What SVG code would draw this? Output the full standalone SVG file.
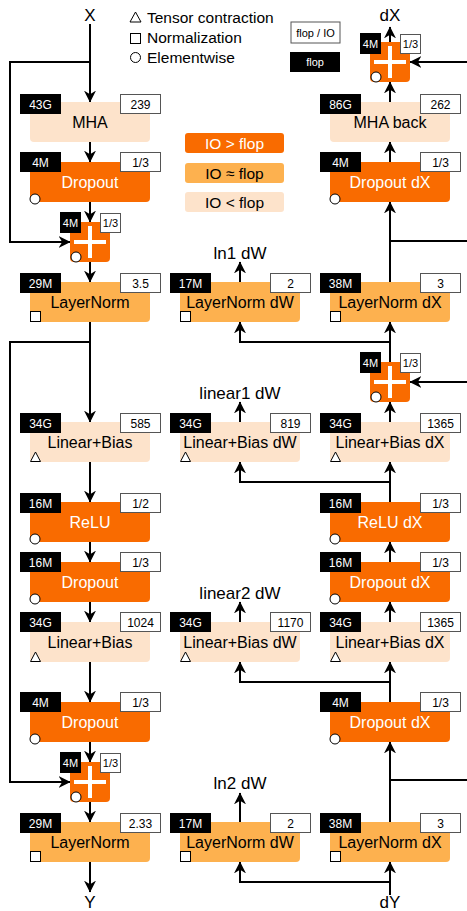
<svg xmlns="http://www.w3.org/2000/svg" width="467" height="911" viewBox="0 0 467 911">
<defs>
<marker id="ah" viewBox="0 0 10 10" refX="9.5" refY="5" markerWidth="12" markerHeight="12" markerUnits="userSpaceOnUse" orient="auto">
<path d="M0,0 L10,5 L0,10 L3,5 z" fill="#000"/>
</marker>
</defs>
<style>
text{font-family:"Liberation Sans",Arial,sans-serif;}
.hi{fill:#f96b00;}
.mid{fill:#fdb14f;}
.lo{fill:#fde3cb;}
.t{font-size:16px;text-anchor:middle;fill:#000;}
.tw{font-size:16px;text-anchor:middle;fill:#fff;}
.bl{fill:#000;}
.wl{fill:#fff;stroke:#555;stroke-width:1;}
.lt{font-size:12px;text-anchor:middle;fill:#fff;}
.ltb{font-size:12px;text-anchor:middle;fill:#000;}
.mk{fill:#fff;stroke:#000;stroke-width:1;}
.plus{stroke:#fff;stroke-width:4;fill:none;}
.c{fill:none;stroke:#000;stroke-width:2;}
.ca{fill:none;stroke:#000;stroke-width:2;marker-end:url(#ah);}
.big{font-size:17px;text-anchor:middle;fill:#000;}
.leg{font-size:15.5px;fill:#000;}
</style>

<g id="legend">
<polygon class="mk" points="135.5,12 130,22 141,22"/>
<text class="leg" x="147" y="23">Tensor contraction</text>
<rect class="mk" x="130.5" y="33.5" width="10" height="10"/>
<text class="leg" x="147" y="43">Normalization</text>
<circle class="mk" cx="135.5" cy="57.5" r="5"/>
<text class="leg" x="147" y="63">Elementwise</text>
<rect class="wl" x="291" y="22" width="49" height="21"/>
<text x="315.5" y="36.5" style="font-size:11px;text-anchor:middle">flop / IO</text>
<rect class="bl" x="290" y="52" width="50" height="20"/>
<text x="315" y="66" style="font-size:11px;text-anchor:middle;fill:#fff">flop</text>
<rect class="hi" x="185" y="133" width="99" height="20" rx="3"/>
<text class="tw" x="234.5" y="149" style="font-size:15.5px">IO &gt; flop</text>
<rect class="mid" x="185" y="163" width="99" height="20" rx="3"/>
<text class="t" x="234.5" y="179" style="font-size:15.5px">IO ≈ flop</text>
<rect class="lo" x="185" y="192" width="99" height="20" rx="3"/>
<text class="t" x="234.5" y="208" style="font-size:15.5px">IO &lt; flop</text>
</g>

<g id="io-labels">
<text class="big" x="90" y="21">X</text>
<text class="big" x="90" y="908">Y</text>
<text class="big" x="390" y="21">dX</text>
<text class="big" x="390" y="908">dY</text>
<text class="big" x="240" y="259">ln1 dW</text>
<text class="big" x="240" y="399">linear1 dW</text>
<text class="big" x="240" y="599">linear2 dW</text>
<text class="big" x="240" y="789">ln2 dW</text>
</g>

<g id="connectors">
<path class="ca" d="M90,24 V102"/>
<path class="ca" d="M90,62 H10 V242 H70"/>
<path class="ca" d="M90,142 V162"/>
<path class="ca" d="M90,202 V222"/>
<path class="ca" d="M90,262 V282"/>
<path class="ca" d="M90,322 V422"/>
<path class="ca" d="M90,342 H10 V782 H70"/>
<path class="ca" d="M90,462 V502"/>
<path class="ca" d="M90,542 V562"/>
<path class="ca" d="M90,602 V622"/>
<path class="ca" d="M90,662 V702"/>
<path class="ca" d="M90,742 V762"/>
<path class="ca" d="M90,802 V822"/>
<path class="ca" d="M90,862 V892"/>
<path class="ca" d="M240,282 V262"/>
<path class="ca" d="M240,422 V402"/>
<path class="ca" d="M240,622 V602"/>
<path class="ca" d="M240,822 V793"/>
<path class="ca" d="M390,42 V27"/>
<path class="ca" d="M390,241 H480 V62 H410"/>
<path class="ca" d="M390,102 V82"/>
<path class="ca" d="M390,162 V142"/>
<path class="ca" d="M390,282 V202"/>
<path class="ca" d="M390,362 V322"/>
<path class="ca" d="M390,342 H240 V322"/>
<path class="ca" d="M390,422 V402"/>
<path class="ca" d="M390,502 V462"/>
<path class="ca" d="M390,482 H240 V462"/>
<path class="ca" d="M390,562 V542"/>
<path class="ca" d="M390,622 V602"/>
<path class="ca" d="M390,702 V662"/>
<path class="ca" d="M390,682 H240 V662"/>
<path class="ca" d="M390,822 V742"/>
<path class="ca" d="M390,780 H480 V382 H410"/>
<path class="ca" d="M390,895 V862"/>
<path class="ca" d="M390,882 H240 V862"/>
</g>

<!-- Column 1 -->
<g id="mha">
<rect class="lo" x="30" y="102" width="120" height="40" rx="4"/>
<text class="t" x="90" y="128">MHA</text>
<rect class="bl" x="20" y="94" width="41" height="20"/><text class="lt" x="40.5" y="108.5">43G</text>
<rect class="wl" x="120.5" y="94.5" width="40" height="19"/><text class="ltb" x="140.5" y="108.5">239</text>
</g>
<g id="dropout1">
<rect class="hi" x="30" y="162" width="120" height="40" rx="4"/>
<text class="tw" x="90" y="188">Dropout</text>
<circle class="mk" cx="35" cy="199" r="5"/>
<rect class="bl" x="20" y="152" width="41" height="20"/><text class="lt" x="40.5" y="166.5">4M</text>
<rect class="wl" x="120.5" y="152.5" width="40" height="19"/><text class="ltb" x="140.5" y="166.5">1/3</text>
</g>
<g id="add1">
<rect class="hi" x="70" y="222" width="40" height="40" rx="4"/>
<path class="plus" d="M74,242 H106 M90,226 V258"/>
<circle class="mk" cx="76" cy="257" r="5"/>
<rect class="bl" x="60" y="212" width="21" height="21"/><text class="lt" x="70.5" y="227" style="font-size:11px">4M</text>
<rect class="wl" x="100.5" y="213.5" width="20" height="19"/><text class="ltb" x="110.5" y="227" style="font-size:11px">1/3</text>
</g>
<g id="layernorm1">
<rect class="mid" x="30" y="282" width="120" height="40" rx="4"/>
<text class="t" x="90" y="308">LayerNorm</text>
<rect class="mk" x="30.5" y="311.5" width="10" height="10"/>
<rect class="bl" x="20" y="273" width="41" height="20"/><text class="lt" x="40.5" y="287.5">29M</text>
<rect class="wl" x="120.5" y="273.5" width="40" height="19"/><text class="ltb" x="140.5" y="287.5">3.5</text>
</g>
<g id="linear1">
<rect class="lo" x="30" y="422" width="120" height="40" rx="4"/>
<text class="t" x="90" y="448">Linear+Bias</text>
<polygon class="mk" points="35.5,452 30.5,461.5 40.5,461.5"/>
<rect class="bl" x="20" y="413" width="41" height="20"/><text class="lt" x="40.5" y="427.5">34G</text>
<rect class="wl" x="120.5" y="413.5" width="40" height="19"/><text class="ltb" x="140.5" y="427.5">585</text>
</g>
<g id="relu">
<rect class="hi" x="30" y="502" width="120" height="40" rx="4"/>
<text class="tw" x="90" y="528">ReLU</text>
<circle class="mk" cx="35" cy="539" r="5"/>
<rect class="bl" x="20" y="493" width="41" height="20"/><text class="lt" x="40.5" y="507.5">16M</text>
<rect class="wl" x="120.5" y="493.5" width="40" height="19"/><text class="ltb" x="140.5" y="507.5">1/2</text>
</g>
<g id="dropout2">
<rect class="hi" x="30" y="562" width="120" height="40" rx="4"/>
<text class="tw" x="90" y="588">Dropout</text>
<circle class="mk" cx="35" cy="599" r="5"/>
<rect class="bl" x="20" y="552" width="41" height="20"/><text class="lt" x="40.5" y="566.5">16M</text>
<rect class="wl" x="120.5" y="552.5" width="40" height="19"/><text class="ltb" x="140.5" y="566.5">1/3</text>
</g>
<g id="linear2">
<rect class="lo" x="30" y="622" width="120" height="40" rx="4"/>
<text class="t" x="90" y="648">Linear+Bias</text>
<polygon class="mk" points="35.5,652 30.5,661.5 40.5,661.5"/>
<rect class="bl" x="20" y="612" width="41" height="20"/><text class="lt" x="40.5" y="626.5">34G</text>
<rect class="wl" x="120.5" y="612.5" width="40" height="19"/><text class="ltb" x="140.5" y="626.5">1024</text>
</g>
<g id="dropout3">
<rect class="hi" x="30" y="702" width="120" height="40" rx="4"/>
<text class="tw" x="90" y="728">Dropout</text>
<circle class="mk" cx="35" cy="739" r="5"/>
<rect class="bl" x="20" y="692" width="41" height="20"/><text class="lt" x="40.5" y="706.5">4M</text>
<rect class="wl" x="120.5" y="692.5" width="40" height="19"/><text class="ltb" x="140.5" y="706.5">1/3</text>
</g>
<g id="add2">
<rect class="hi" x="70" y="762" width="40" height="40" rx="4"/>
<path class="plus" d="M74,782 H106 M90,766 V798"/>
<circle class="mk" cx="76" cy="797" r="5"/>
<rect class="bl" x="60" y="752" width="21" height="21"/><text class="lt" x="70.5" y="767" style="font-size:11px">4M</text>
<rect class="wl" x="100.5" y="753.5" width="20" height="19"/><text class="ltb" x="110.5" y="767" style="font-size:11px">1/3</text>
</g>
<g id="layernorm2">
<rect class="mid" x="30" y="822" width="120" height="40" rx="4"/>
<text class="t" x="90" y="848">LayerNorm</text>
<rect class="mk" x="30.5" y="851.5" width="10" height="10"/>
<rect class="bl" x="20" y="813" width="41" height="20"/><text class="lt" x="40.5" y="827.5">29M</text>
<rect class="wl" x="120.5" y="813.5" width="40" height="19"/><text class="ltb" x="140.5" y="827.5">2.33</text>
</g>

<!-- Column 2 -->
<g id="ln1dw">
<rect class="mid" x="180" y="282" width="120" height="40" rx="4"/>
<text class="t" x="240" y="308">LayerNorm dW</text>
<rect class="mk" x="180.5" y="311.5" width="10" height="10"/>
<rect class="bl" x="170" y="273" width="41" height="20"/><text class="lt" x="190.5" y="287.5">17M</text>
<rect class="wl" x="270.5" y="273.5" width="40" height="19"/><text class="ltb" x="290.5" y="287.5">2</text>
</g>
<g id="lin1dw">
<rect class="lo" x="180" y="422" width="120" height="40" rx="4"/>
<text class="t" x="240" y="448">Linear+Bias dW</text>
<polygon class="mk" points="185.5,452 180.5,461.5 190.5,461.5"/>
<rect class="bl" x="170" y="413" width="41" height="20"/><text class="lt" x="190.5" y="427.5">34G</text>
<rect class="wl" x="270.5" y="413.5" width="40" height="19"/><text class="ltb" x="290.5" y="427.5">819</text>
</g>
<g id="lin2dw">
<rect class="lo" x="180" y="622" width="120" height="40" rx="4"/>
<text class="t" x="240" y="648">Linear+Bias dW</text>
<polygon class="mk" points="185.5,652 180.5,661.5 190.5,661.5"/>
<rect class="bl" x="170" y="612" width="41" height="20"/><text class="lt" x="190.5" y="626.5">34G</text>
<rect class="wl" x="270.5" y="612.5" width="40" height="19"/><text class="ltb" x="290.5" y="626.5">1170</text>
</g>
<g id="ln2dw">
<rect class="mid" x="180" y="822" width="120" height="40" rx="4"/>
<text class="t" x="240" y="848">LayerNorm dW</text>
<rect class="mk" x="180.5" y="851.5" width="10" height="10"/>
<rect class="bl" x="170" y="813" width="41" height="20"/><text class="lt" x="190.5" y="827.5">17M</text>
<rect class="wl" x="270.5" y="813.5" width="40" height="19"/><text class="ltb" x="290.5" y="827.5">2</text>
</g>

<!-- Column 3 -->
<g id="addb1">
<rect class="hi" x="370" y="42" width="40" height="40" rx="4"/>
<path class="plus" d="M374,62 H406 M390,46 V78"/>
<circle class="mk" cx="376" cy="77" r="5"/>
<rect class="bl" x="360" y="33" width="21" height="21"/><text class="lt" x="370.5" y="48" style="font-size:11px">4M</text>
<rect class="wl" x="400.5" y="34.5" width="20" height="19"/><text class="ltb" x="410.5" y="48" style="font-size:11px">1/3</text>
</g>
<g id="mhaback">
<rect class="lo" x="330" y="102" width="120" height="40" rx="4"/>
<text class="t" x="390" y="128">MHA back</text>
<rect class="bl" x="320" y="94" width="41" height="20"/><text class="lt" x="340.5" y="108.5">86G</text>
<rect class="wl" x="420.5" y="94.5" width="40" height="19"/><text class="ltb" x="440.5" y="108.5">262</text>
</g>
<g id="dropdx1">
<rect class="hi" x="330" y="162" width="120" height="40" rx="4"/>
<text class="tw" x="390" y="188">Dropout dX</text>
<circle class="mk" cx="335" cy="199" r="5"/>
<rect class="bl" x="320" y="152" width="41" height="20"/><text class="lt" x="340.5" y="166.5">4M</text>
<rect class="wl" x="420.5" y="152.5" width="40" height="19"/><text class="ltb" x="440.5" y="166.5">1/3</text>
</g>
<g id="ln1dx">
<rect class="mid" x="330" y="282" width="120" height="40" rx="4"/>
<text class="t" x="390" y="308">LayerNorm dX</text>
<rect class="mk" x="330.5" y="311.5" width="10" height="10"/>
<rect class="bl" x="320" y="273" width="41" height="20"/><text class="lt" x="340.5" y="287.5">38M</text>
<rect class="wl" x="420.5" y="273.5" width="40" height="19"/><text class="ltb" x="440.5" y="287.5">3</text>
</g>
<g id="addb2">
<rect class="hi" x="370" y="362" width="40" height="40" rx="4"/>
<path class="plus" d="M374,382 H406 M390,366 V398"/>
<circle class="mk" cx="376" cy="397" r="5"/>
<rect class="bl" x="360" y="352" width="21" height="21"/><text class="lt" x="370.5" y="367" style="font-size:11px">4M</text>
<rect class="wl" x="400.5" y="353.5" width="20" height="19"/><text class="ltb" x="410.5" y="367" style="font-size:11px">1/3</text>
</g>
<g id="lin1dx">
<rect class="lo" x="330" y="422" width="120" height="40" rx="4"/>
<text class="t" x="390" y="448">Linear+Bias dX</text>
<polygon class="mk" points="335.5,452 330.5,461.5 340.5,461.5"/>
<rect class="bl" x="320" y="413" width="41" height="20"/><text class="lt" x="340.5" y="427.5">34G</text>
<rect class="wl" x="420.5" y="413.5" width="40" height="19"/><text class="ltb" x="440.5" y="427.5">1365</text>
</g>
<g id="reludx">
<rect class="hi" x="330" y="502" width="120" height="40" rx="4"/>
<text class="tw" x="390" y="528">ReLU dX</text>
<circle class="mk" cx="335" cy="539" r="5"/>
<rect class="bl" x="320" y="493" width="41" height="20"/><text class="lt" x="340.5" y="507.5">16M</text>
<rect class="wl" x="420.5" y="493.5" width="40" height="19"/><text class="ltb" x="440.5" y="507.5">1/3</text>
</g>
<g id="dropdx2">
<rect class="hi" x="330" y="562" width="120" height="40" rx="4"/>
<text class="tw" x="390" y="588">Dropout dX</text>
<circle class="mk" cx="335" cy="599" r="5"/>
<rect class="bl" x="320" y="552" width="41" height="20"/><text class="lt" x="340.5" y="566.5">16M</text>
<rect class="wl" x="420.5" y="552.5" width="40" height="19"/><text class="ltb" x="440.5" y="566.5">1/3</text>
</g>
<g id="lin2dx">
<rect class="lo" x="330" y="622" width="120" height="40" rx="4"/>
<text class="t" x="390" y="648">Linear+Bias dX</text>
<polygon class="mk" points="335.5,652 330.5,661.5 340.5,661.5"/>
<rect class="bl" x="320" y="612" width="41" height="20"/><text class="lt" x="340.5" y="626.5">34G</text>
<rect class="wl" x="420.5" y="612.5" width="40" height="19"/><text class="ltb" x="440.5" y="626.5">1365</text>
</g>
<g id="dropdx3">
<rect class="hi" x="330" y="702" width="120" height="40" rx="4"/>
<text class="tw" x="390" y="728">Dropout dX</text>
<circle class="mk" cx="335" cy="739" r="5"/>
<rect class="bl" x="320" y="692" width="41" height="20"/><text class="lt" x="340.5" y="706.5">4M</text>
<rect class="wl" x="420.5" y="692.5" width="40" height="19"/><text class="ltb" x="440.5" y="706.5">1/3</text>
</g>
<g id="ln2dx">
<rect class="mid" x="330" y="822" width="120" height="40" rx="4"/>
<text class="t" x="390" y="848">LayerNorm dX</text>
<rect class="mk" x="330.5" y="851.5" width="10" height="10"/>
<rect class="bl" x="320" y="813" width="41" height="20"/><text class="lt" x="340.5" y="827.5">38M</text>
<rect class="wl" x="420.5" y="813.5" width="40" height="19"/><text class="ltb" x="440.5" y="827.5">3</text>
</g>
</svg>
